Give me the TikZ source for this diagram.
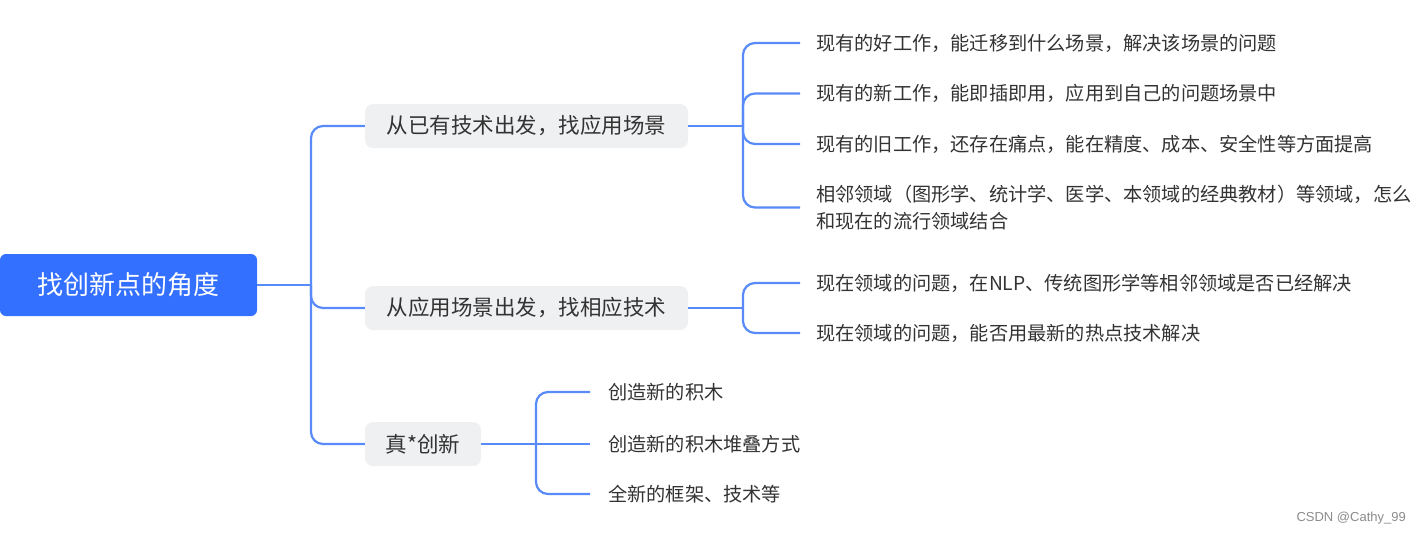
\documentclass[tikz,border=0pt]{standalone}
\usepackage{fontspec}
\setmainfont{Noto Sans CJK SC}
\newfontfamily\wmfont{Liberation Sans}
\usetikzlibrary{backgrounds}
\definecolor{rootblue}{RGB}{51,112,255}
\definecolor{linkblue}{RGB}{88,138,250}
\definecolor{boxgray}{RGB}{239,240,242}
\definecolor{txt}{RGB}{51,51,51}
\definecolor{wmgray}{RGB}{140,140,140}
\tikzset{
  conn/.style={draw=linkblue,line width=2.2pt},
  bendconn/.style={conn,rounded corners=12pt},
  rootbox/.style={fill=rootblue,text=white,rounded corners=6pt,minimum width=257pt,minimum height=62pt,inner sep=0pt,font=\fontsize{26}{30}\selectfont},
  branchbox/.style={fill=boxgray,text=txt,rounded corners=8pt,minimum height=44pt,inner sep=0pt,font=\fontsize{21.5}{26}\selectfont},
  leaf/.style={anchor=west,inner sep=0pt,text=txt,align=left,font=\fontsize{19.2}{27}\selectfont},
  wm/.style={anchor=east,inner sep=0pt,text=wmgray,font=\wmfont\fontsize{13}{15}\selectfont}
}
\begin{document}
\begin{tikzpicture}[x=1pt,y=-1pt]
\useasboundingbox[fill=white] (0,0) rectangle (1421,535);
% root
\node[rootbox] (root) at (128.5,285) {找创新点的角度};
\begin{scope}[on background layer]
  \foreach \i in {1,...,7} {
    \draw[rootblue,opacity=0.025,line width={2*\i pt},rounded corners=6pt]
      ([yshift=-3pt]root.south west) rectangle ([yshift=-3pt]root.north east);
  }
\end{scope}
% branches
\node[branchbox,minimum width=323pt] (b1) at (526.5,126) {从已有技术出发，找应用场景};
\node[branchbox,minimum width=323pt] (b2) at (526.5,308) {从应用场景出发，找相应技术};
\node[branchbox,minimum width=116pt] (b3) at (423,444) {真*创新};
% junctions
\coordinate (rj) at (311,285);
\coordinate (j1) at (743,126);
\coordinate (j2) at (743,308);
\coordinate (j3) at (536,444);
% leaves
\node[leaf] (c11) at (816,43) {现有的好工作，能迁移到什么场景，解决该场景的问题};
\node[leaf] (c12) at (816,93.5) {现有的新工作，能即插即用，应用到自己的问题场景中};
\node[leaf] (c13) at (816,144) {现有的旧工作，还存在痛点，能在精度、成本、安全性等方面提高};
\node[leaf] (c14) at (816,207.5) {相邻领域（图形学、统计学、医学、本领域的经典教材）等领域，怎么\\和现在的流行领域结合};
\node[leaf] (c21) at (816,283) {现在领域的问题，在NLP、传统图形学等相邻领域是否已经解决};
\node[leaf] (c22) at (816,333) {现在领域的问题，能否用最新的热点技术解决};
\node[leaf] (c31) at (608,392) {创造新的积木};
\node[leaf] (c32) at (608,444) {创造新的积木堆叠方式};
\node[leaf] (c33) at (608,494) {全新的框架、技术等};
% connectors root -> branches
\draw[conn] (root.east) -- (rj);
\draw[bendconn] (rj) |- (b1.west);
\draw[bendconn] (rj) |- (b2.west);
\draw[bendconn] (rj) |- (b3.west);
% branch 1
\draw[conn] (b1.east) -- (j1);
\draw[bendconn] (j1) |- ([xshift=-16pt]c11.west);
\draw[bendconn] (j1) |- ([xshift=-16pt]c12.west);
\draw[bendconn] (j1) |- ([xshift=-16pt]c13.west);
\draw[bendconn] (j1) |- ([xshift=-16pt]c14.west);
% branch 2
\draw[conn] (b2.east) -- (j2);
\draw[bendconn] (j2) |- ([xshift=-16pt]c21.west);
\draw[bendconn] (j2) |- ([xshift=-16pt]c22.west);
% branch 3
\draw[conn] (b3.east) -- (j3);
\draw[bendconn] (j3) |- ([xshift=-18pt]c31.west);
\draw[conn] (j3) -- ([xshift=-18pt]c32.west);
\draw[bendconn] (j3) |- ([xshift=-18pt]c33.west);
% watermark
\node[wm] (wmk) at (1406,518) {CSDN @Cathy\_99};
\end{tikzpicture}
\end{document}
